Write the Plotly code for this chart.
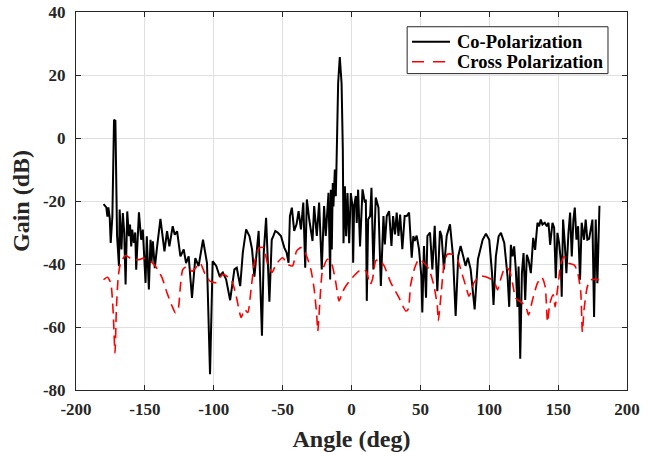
import plotly.graph_objects as go

co_angle = [-180, -179, -178, -177.2, -176.5, -175.5, -174.8, -173.6, -173, -172.4, -171.4, -170.7, -170.2,
            -168.8, -168.3, -167, -166, -165, -164, -162.8, -161.6, -160.8, -159.9, -159.2, -158, -157,
            -156.3, -154.3, -152.7, -151.5, -150.5, -149.5, -148.6, -147.1, -145.9, -145.2, -144.2, -142.8,
            -141.1, -138.7, -135.8, -133.9, -132.2, -129.8, -128.3, -126.6, -124.2, -121.8, -120.1, -118.2,
            -115.8, -113.4, -111, -107.8, -104.9, -102.7, -100.8, -98.2, -95.8, -93.4, -91, -88.1, -85,
            -83.3, -80.8, -78.9, -76.5, -74.1, -72.2, -70.5, -67.4, -65, -63.7, -62, -59.6, -57.9, -56.7,
            -55.3, -53.6, -51.2, -48.8, -47.1, -45.7, -44.7, -43.3, -41.6, -39.9, -38.4, -36.7, -35, -33.6,
            -32.4, -30.7, -28.3, -27.1, -25.2, -23.5, -21.6, -19.9, -18.7, -16.7, -15.5, -15, -14.3, -13.6,
            -13.1, -12.1, -11.4, -10.9, -9.7, -8.5, -7.2, -6.3, -5.8, -4.8, -3.9, -2.9, -1.7, -0.5, 0.7,
            1.2, 1.9, 3.1, 3.8, 4.8, 6.2, 8, 9.7, 10.4, 11.1, 12.1, 13.5, 14.5, 15.9, 17.6, 19.6, 21.3,
            23.2, 24.2, 25.6, 27.3, 29, 30.2, 31.6, 32.8, 34.1, 35.3, 36.9, 38.6, 40.1, 41.8, 43.7, 44.9,
            45.9, 47.3, 49, 50.7, 51.4, 52.6, 54.1, 55.1, 57, 58.7, 60.4, 62.3, 64.2, 65.4, 67.1, 69.1,
            71.5, 73.7, 75.6, 77.5, 79.2, 81.1, 82.8, 84.5, 86.5, 89.4, 91.8, 95.2, 97.6, 100, 102, 103.1,
            104.8, 106.8, 108.5, 110.9, 113.3, 114.5, 115.7, 116.9, 118.1, 119.3, 120.5, 121.3, 122.5,
            123.7, 124.9, 126.1, 127.3, 128.5, 130.2, 131.9, 133.3, 135, 136.2, 137.4, 138.6, 140.3, 141.8,
            143, 144.2, 145.9, 147.1, 148.3, 149.5, 150.7, 151.9, 152.6, 153.6, 154.8, 156, 157.5, 158.7,
            159.9, 161.1, 162.1, 163.3, 164.5, 165.9, 167.1, 168.8, 170, 171.2, 172.5, 173.7, 174.9, 176.1,
            177.3, 178.5, 180]
co_gain = [-21, -21.5, -22, -25, -22, -25.4, -33.3, -24.9, -10, 5.8, 5.5, -10, -31,
           -40.7, -22.7, -35.4, -23.8, -30, -46.5, -23.3, -31.2, -27.5, -34.4, -29.1, -33.3, -30,
           -41.8, -23.6, -32.3, -29.1, -37.6, -46, -31.2, -48.1, -32.3, -39.7, -32.8, -41.3,
           -34.4, -25.7, -36, -29.6, -34.4, -28, -30.7, -29.6, -37.6, -35.4, -39.7, -37.6,
           -50.8, -38.1, -40.7, -32.3, -39.7, -75, -39.1, -40.6, -43.8, -42.7, -44.9, -51.5, -41.7,
           -41.2, -47, -36.4, -29, -31.1, -35.3, -44, -29.5, -62.8, -36.4, -25.3, -52, -32.3, -31.1,
           -29.5, -30, -31.1, -34.8, -36.4, -39.6, -24.8, -22.1, -29.5, -27.4, -23.2, -29, -20.5, -41.2,
           -19.5, -25.8, -32.7, -21.6, -31.1, -20.5, -41.7, -21.6, -31.1, -17.4, -44.9, -16.4, -35.4, -14.3,
           -21.7, -10, -18.5, -8.9, 17.4, 25.7, 17.4, -3.7, -33.4, -15.3, -31.2, -17.5, -33.4, -17.5, -21.7,
           -39.6, -21.6, -18.4, -27, -16.4, -34.4, -16.3, -20.5, -19.5, -51.7, -25.8, -24.8, -15.8, -41.7, -18.9, -22.1, -47,
           -24.8, -33.8, -24.8, -23.2, -34.3, -24.8, -30.6, -23.7, -31.1, -24.3, -35.3, -24.8, -24.8, -23.7, -38, -31.1,
           -32.7, -31, -35.3, -43.8, -55.4, -34.3, -50.7, -31.1, -30, -41.7, -27.9, -48.6, -29.5, -31.1, -41.7, -31.1,
           -27.4, -37.5, -56.5, -37.5, -34.3, -37.5, -40.6, -38, -41.7, -54.4, -38.5, -32.3, -30.4, -32.3, -42.9, -53,
           -37.6, -31.2, -30.1, -33.3, -44, -53.6, -33.9, -37.6, -34.4, -41.9, -53.6, -40.8, -70.1,
           -42.9, -36.5, -51.4, -37.1, -38.7, -42.9, -31.7, -35.5, -26.9, -28, -25.9, -27.5, -26.9, -28,
           -26.9, -33.9, -26.9, -28.5, -44.5, -30.1, -33.3, -38.7, -50.4, -25.9, -33.3, -42.9, -30.1, -23.7,
           -37.6, -25.9, -22.1, -32.3, -28, -45, -26.9, -32.3, -25.9, -32.3, -32, -29.1, -25.9, -56.8,
           -25.9, -46.1, -21.5]

cross_angle = [-180, -177.2, -174.8, -173.1, -171.7, -170.7, -169.3, -167.6, -164, -159.2, -154.3, -150.7,
               -145.9, -142.3, -137.5, -133.9, -130.2, -127.8, -125.9, -124.2, -122.5, -119.4, -115.8, -112.2,
               -109.8, -106.1, -102.5, -98.2, -93.4, -87.4, -83.7, -80.1, -77.7, -75.3, -72.9, -70.5, -66.9,
               -64, -60.8, -57.7, -54.8, -50, -46.4, -42.8, -39.9, -36.7, -33.6, -29.5, -27.1, -25.2, -24.5,
               -23, -21.1, -17.5, -14.3, -11.4, -9, -6.6, -4.1, 0.7, 5.6, 9.2, 11.1, 13.5, 15.2, 17.6, 20,
               23.7, 28.5, 34.5, 39.4, 41.1, 43, 45.9, 49, 52.6, 56.3, 59.9, 62.3, 63, 64.7, 67.1, 69.6, 73.2,
               76.8, 80.4, 83.6, 85.2, 87.2, 88.9, 93.7, 100, 103.6, 106, 108.5, 111.6, 114.5, 116.9, 119.3,
               122.9, 126.6, 128.5, 131.4, 135, 138.2, 140.6, 142.3, 144, 146.4, 147.8, 149.5, 151.9, 154.3,
               157.5, 161.6, 164, 166.4, 167.6, 168.8, 171.2, 173.7, 179.7]
cross_gain = [-45, -44.2, -46, -54.5, -68.2, -54.5, -43.9, -39.7, -37.3, -38.6, -38.6, -38.1,
              -39.1, -40.7, -44.4, -49.2, -53.4, -55.5, -54.5, -47, -41.8, -40.7, -42.3, -40.7,
              -39.7, -43.4, -45.5, -45.9, -43.3, -44.9, -50.2, -57, -54.4, -55.4, -48, -39.6, -34.8,
              -34.8, -40.1, -42.7, -40.1, -38, -40.1, -40.6, -35.9, -34.8, -36.4, -41.7, -48, -56.5, -61.3,
              -52.3, -42.2, -38.5, -40.1, -45.9, -51.7, -49, -47, -44.3, -42.2, -41.7, -42.7, -46.5, -44.9, -39, -38.5,
              -40.6, -45.9, -50.7, -54.9, -54.4, -46.5, -41.2, -38.5, -39.6, -41.7, -47, -53.3, -58.1, -51.2, -40.6, -36.9, -36.9,
              -38.5, -43.3, -48, -50.2, -48.6, -45.9, -43.8, -44.5, -45.6, -48.2, -44.5, -41, -41.9, -46.1, -50.9,
              -52, -53.6, -56.2, -51.4, -46.1, -44.2, -47.2, -58.4, -52.5, -49.8, -53.6, -48.2, -40.3, -37.6,
              -39.7, -40.3, -42.4, -48.8, -61.6, -54.6, -47.2, -45, -45]

series_names = ["Co-Polarization", "Cross Polarization"]
series_colors = ["black", "#ff0000"]

x_ticks = [-200, -150, -100, -50, 0, 50, 100, 150, 200]
x_labels = ["-200", "-150", "-100", "-50", "0", "50", "100", "150", "200"]
y_ticks = [-80, -60, -40, -20, 0, 20, 40]
y_labels = ["-80", "-60", "-40", "-20", "0", "20", "40"]

font_family = "Liberation Serif"
cross_dash = "10px,6px"

fig = go.Figure()
fig.add_trace(go.Scatter(x=co_angle, y=co_gain, mode="lines", name=series_names[0],
                         line=dict(color=series_colors[0], width=2), showlegend=False))
fig.add_trace(go.Scatter(x=cross_angle, y=cross_gain, mode="lines", name=series_names[1],
                         line=dict(color=series_colors[1], width=1.6, dash=cross_dash,
                                   shape="spline", smoothing=0.6), showlegend=False))

# Legend drawn as a boxed key in paper coordinates (top-right of the axes)
box = dict(x0=0.601, x1=0.9655, y0=0.837, y1=0.961)
row_y = [0.9214, 0.8684]
shapes = [dict(type="rect", xref="paper", yref="paper", fillcolor="white",
               line=dict(color="#262626", width=1), **box)]
annotations = []
for i, name in enumerate(series_names):
    shapes.append(dict(type="line", xref="paper", yref="paper", x0=0.6098, x1=0.6788,
                       y0=row_y[i], y1=row_y[i],
                       line=dict(color=series_colors[i], width=2 if i == 0 else 1.6,
                                 dash="solid" if i == 0 else "12px,9px")))
    annotations.append(dict(xref="paper", yref="paper", x=0.688, y=row_y[i], xanchor="left",
                            yanchor="middle", showarrow=False, text="<b>%s</b>" % name,
                            font=dict(family=font_family, size=18.5, color="black")))

axis_common = dict(showline=True, linecolor="#262626", linewidth=1, mirror="ticks",
                   ticks="inside", ticklen=5, tickcolor="#262626", automargin=False,
                   showgrid=True, gridcolor="#e0e0e0", gridwidth=1, zeroline=False,
                   tickfont=dict(family=font_family, size=17, color="#262626"))

fig.update_layout(
    width=656, height=452,
    margin=dict(l=76, r=29, t=12, b=62),
    paper_bgcolor="white", plot_bgcolor="white",
    font=dict(family=font_family, color="#262626"),
    xaxis=dict(range=[-200, 200], tickvals=x_ticks, ticktext=["<b>%s</b>" % t for t in x_labels],
               ticklabelstandoff=4,
               title=dict(text="<b>Angle (deg)</b>", font=dict(family=font_family, size=24), standoff=13),
               **axis_common),
    yaxis=dict(range=[-80, 40], tickvals=y_ticks, ticktext=["<b>%s</b>" % t for t in y_labels],
               ticklabelstandoff=6,
               title=dict(text="<b>Gain (dB)</b>", font=dict(family=font_family, size=24), standoff=6),
               **axis_common),
    shapes=shapes,
    annotations=annotations,
    showlegend=False,
)

fig.write_html("out.html", config={"displayModeBar": False},
               post_script="document.body.style.margin='0';document.body.style.overflow='hidden';")
